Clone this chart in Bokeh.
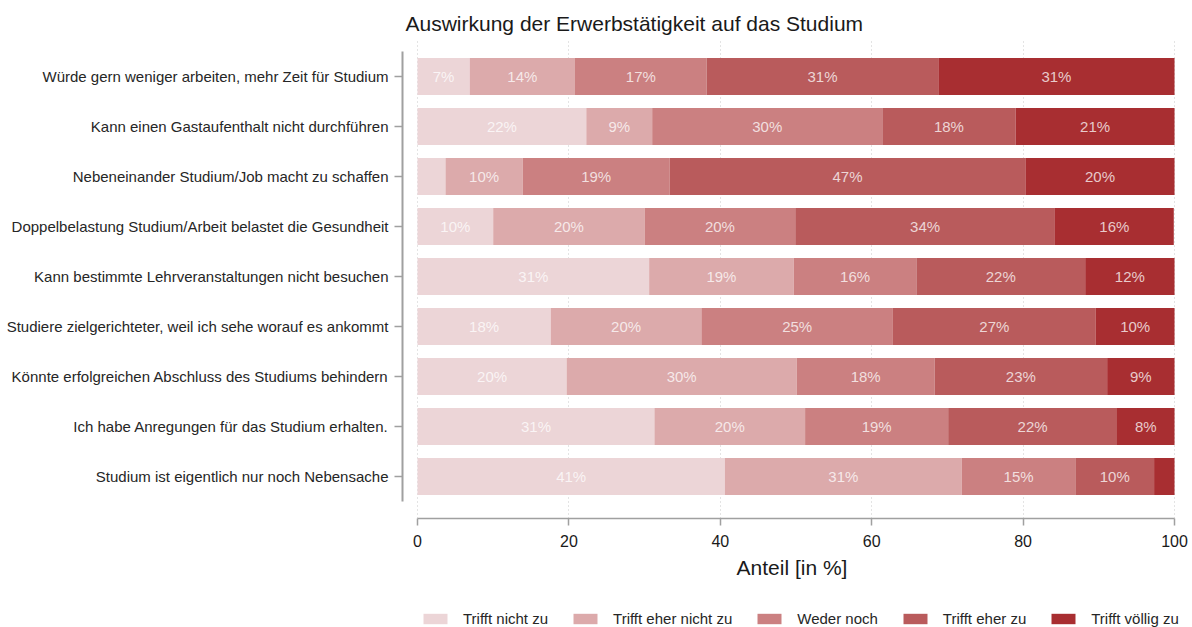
from bokeh.plotting import figure
from bokeh.layouts import column
from bokeh.models import Range1d, FixedTicker, Legend, LegendItem, ColumnDataSource
from bokeh.embed import file_html
from bokeh.resources import INLINE
from bokeh.core.properties import value
import numpy as np

title = "Auswirkung der Erwerbstätigkeit auf das Studium"
statements = [
    "Würde gern weniger arbeiten, mehr Zeit für Studium",
    "Kann einen Gastaufenthalt nicht durchführen",
    "Nebeneinander Studium/Job macht zu schaffen",
    "Doppelbelastung Studium/Arbeit belastet die Gesundheit",
    "Kann bestimmte Lehrveranstaltungen nicht besuchen",
    "Studiere zielgerichteter, weil ich sehe worauf es ankommt",
    "Könnte erfolgreichen Abschluss des Studiums behindern",
    "Ich habe Anregungen für das Studium erhalten.",
    "Studium ist eigentlich nur noch Nebensache",
]
categories = ["Trifft nicht zu", "Trifft eher nicht zu", "Weder noch", "Trifft eher zu", "Trifft völlig zu"]
trifft_nicht_zu      = [6.9, 22.3, 3.7, 10.0, 30.6, 17.6, 19.7, 31.3, 40.6]
trifft_eher_nicht_zu = [13.9, 8.7, 10.2, 20.0, 19.1, 19.9, 30.4, 19.9, 31.3]
weder_noch           = [17.4, 30.4, 19.4, 19.9, 16.2, 25.3, 18.2, 18.9, 15.0]
trifft_eher_zu       = [30.6, 17.6, 47.0, 34.3, 22.3, 26.8, 22.8, 22.3, 10.4]
trifft_voellig_zu    = [31.2, 21.0, 19.7, 15.7, 11.8, 10.4, 8.9, 7.6, 2.7]
colors = ["#ecd5d7", "#dcaaab", "#cb8081", "#b95b5c", "#a82e31"]
x_ticks = [0, 20, 40, 60, 80, 100]

FONT = "Liberation Sans"
series = [trifft_nicht_zu, trifft_eher_nicht_zu, weder_noch, trifft_eher_zu, trifft_voellig_zu]
keys = ["s0", "s1", "s2", "s3", "s4"]
n = len(statements)
ypos = [n - i - 0.5 for i in range(n)]

data = {"y": ypos}
for k, s in zip(keys, series):
    data[k] = s
source = ColumnDataSource(data)

W = 1190
p = figure(width=W, height=594, output_backend="svg", toolbar_location=None,
           x_range=Range1d(-1.98, 100.92), y_range=Range1d(-0.34, 9.22),
           min_border_left=402, min_border_right=9, min_border_top=40, min_border_bottom=76)
p.outline_line_color = None
p.background_fill_color = "white"
p.border_fill_color = "white"

p.title.text = title
p.title.text_font = FONT
p.title.text_font_size = "21px"
p.title.text_font_style = "normal"
p.title.text_color = "#1a1a1a"
p.title.align = "left"
p.title.offset = 3
p.title.standoff = 12

renderers = p.hbar_stack(keys, y="y", height=0.74, color=colors, source=source, line_color=None)

# segment labels
arr = np.array(series)
ends = np.cumsum(arr, axis=0)
starts = ends - arr
lx, ly, lt = [], [], []
for j in range(arr.shape[0]):
    for i in range(n):
        v = arr[j, i]
        if v >= 5:
            lx.append((starts[j, i] + ends[j, i]) / 2)
            ly.append(ypos[i])
            lt.append(f"{int(v + 0.5)}%")
p.text(x=lx, y=ly, text=lt, text_align="center", text_baseline="middle",
       text_font=value(FONT), text_font_size="15px", text_color="white", text_alpha=0.75)

# axes
p.xaxis.ticker = FixedTicker(ticks=x_ticks)
p.xaxis.bounds = (0, 100)
p.xaxis.axis_label = "Anteil [in %]"
p.xaxis.axis_label_text_font = FONT
p.xaxis.axis_label_text_font_size = "21px"
p.xaxis.axis_label_text_font_style = "normal"
p.xaxis.axis_label_text_color = "#1a1a1a"
p.xaxis.axis_label_standoff = 6
p.xaxis.major_label_text_font = FONT
p.xaxis.major_label_text_font_size = "16px"
p.xaxis.major_label_text_color = "#1a1a1a"
p.xaxis.major_label_standoff = 9
p.xaxis.axis_line_color = "#a0a0a0"
p.xaxis.axis_line_width = 1.5
p.xaxis.major_tick_line_color = "#a0a0a0"
p.xaxis.major_tick_line_width = 1.5
p.xaxis.major_tick_out = 7
p.xaxis.major_tick_in = 0
p.xaxis.minor_tick_line_color = None

p.yaxis.ticker = FixedTicker(ticks=ypos)
p.yaxis.major_label_overrides = {y: s for y, s in zip(ypos, statements)}
p.yaxis.bounds = (0, n)
p.yaxis.major_label_text_font = FONT
p.yaxis.major_label_text_font_size = "15px"
p.yaxis.major_label_text_color = "#262626"
p.yaxis.major_label_standoff = 6
p.yaxis.axis_line_color = "#a0a0a0"
p.yaxis.axis_line_width = 2
p.yaxis.major_tick_line_color = "#a0a0a0"
p.yaxis.major_tick_line_width = 1.5
p.yaxis.major_tick_out = 8
p.yaxis.major_tick_in = 0
p.yaxis.minor_tick_line_color = None

p.ygrid.grid_line_color = None
p.xgrid.ticker = FixedTicker(ticks=x_ticks)
p.xgrid.grid_line_color = "#c8c8c8"
p.xgrid.grid_line_dash = "1 3"
p.xgrid.grid_line_width = 1

# legend strip (separate figure below the chart; its frame is aligned with the chart's frame)
lg = figure(width=W, height=33, output_backend="svg", toolbar_location=None,
            x_range=Range1d(0, 1), y_range=Range1d(0, 1),
            min_border_left=0, min_border_right=0, min_border_top=0, min_border_bottom=0)
lg.outline_line_color = None
lg.axis.visible = False
lg.grid.visible = False
lg_renderers = [lg.hbar(y=[0], left=[0], right=[0], height=0, color=c, line_color=None) for c in colors]
legend = Legend(items=[LegendItem(label=c, renderers=[r]) for c, r in zip(categories, lg_renderers)],
                orientation="horizontal", location=(18, 0))
legend.label_text_font = FONT
legend.label_text_font_size = "15px"
legend.label_text_color = "#262626"
legend.glyph_width = 30
legend.glyph_height = 13
legend.label_standoff = 13
legend.spacing = 22
legend.padding = 0
legend.margin = 0
legend.border_line_color = None
legend.background_fill_alpha = 0
lg.add_layout(legend, "center")

open("out.html", "w").write(file_html(column(p, lg), INLINE))
